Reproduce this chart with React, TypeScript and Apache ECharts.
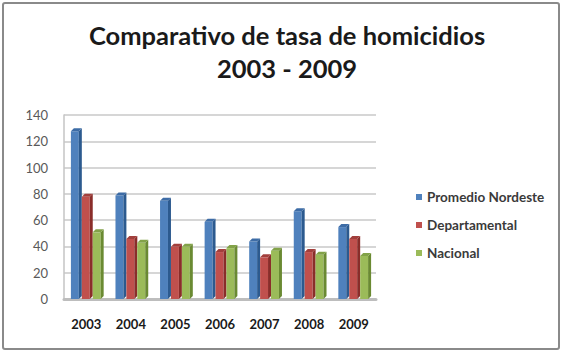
import React, { useEffect, useRef } from "react";
import * as echarts from "echarts";

const years = ["2003", "2004", "2005", "2006", "2007", "2008", "2009"];
const promedioNordeste = [130, 81, 77, 61, 46, 69, 57];
const departamental = [80, 48, 42, 38, 34, 38, 48];
const nacional = [53, 45, 42, 41, 39, 36, 35];
const seriesNames = ["Promedio Nordeste", "Departamental", "Nacional"];
const seriesValues = [promedioNordeste, departamental, nacional];
const titleLines = ["Comparativo de tasa de homicidios", "2003 - 2009"];

const colors = ["#4F81BD", "#C0504D", "#9BBB59"];
const sideColors = ["#2c5a8f", "#8a2d2a", "#6a8a32"];
const topColors = ["#3d6ca6", "#a23f3c", "#82a248"];

export default function App() {
  const ref = useRef<HTMLDivElement>(null);
  useEffect(() => {
    if (!ref.current) return;
    const chart = echarts.init(ref.current, undefined, { renderer: "svg" });
    const makeRender = (s: number) => (params: any, api: any) => {
      const ci = api.value(0);
      const v = api.value(1);
      const top = api.coord([ci, v]);
      const base = api.coord([ci, 0]);
      const band = api.size([1, 0])[0];
      const bw = band * 0.245;
      const x0 = top[0] - 1.5 * bw + s * bw + 1;
      const d = 3;
      const ty = top[1];
      const by = base[1];
      return {
        type: "group",
        children: [
          {
            type: "rect",
            shape: { x: x0, y: ty + d, width: bw - d, height: by - ty - d },
            style: { fill: colors[s] },
          },
          {
            type: "polygon",
            shape: {
              points: [
                [x0 + bw - d, ty + d],
                [x0 + bw, ty],
                [x0 + bw, by - d],
                [x0 + bw - d, by],
              ],
            },
            style: { fill: sideColors[s] },
          },
          {
            type: "polygon",
            shape: {
              points: [
                [x0, ty + d],
                [x0 + d, ty],
                [x0 + bw, ty],
                [x0 + bw - d, ty + d],
              ],
            },
            style: { fill: topColors[s] },
          },
        ],
      };
    };
    chart.setOption({
      animation: false,
      color: colors,
      title: {
        text: titleLines.join("\n"),
        left: 282,
        textAlign: "center",
        top: 13,
        textStyle: {
          fontFamily: "Lato",
          fontWeight: "bold",
          fontSize: 25.5,
          lineHeight: 33,
          color: "#1a1a1a",
        },
      },
      graphic: [
        {
          type: "rect",
          shape: { x: 3, y: 3, width: 556, height: 346, r: 2 },
          style: { fill: "none", stroke: "#8a8a8a", lineWidth: 2 },
          silent: true,
        },
      ],
      legend: {
        orient: "vertical",
        left: 411,
        top: 185,
        itemWidth: 6,
        itemHeight: 6,
        itemGap: 14,
        icon: "rect",
        textStyle: { fontFamily: "Lato", fontSize: 13.5, fontWeight: "bold", color: "#3a3a3a", lineHeight: 14 },
        data: seriesNames,
      },
      grid: { left: 64, right: 191, top: 115, bottom: 57 },
      xAxis: {
        type: "category",
        data: years,
        axisLine: { show: true, lineStyle: { color: "#bdbdbd", width: 3 } },
        axisTick: { show: false },
        axisLabel: {
          margin: 18,
          fontFamily: "Lato",
          fontWeight: "bold",
          fontSize: 13,
          color: "#1a1a1a",
        },
      },
      yAxis: {
        type: "value",
        min: 0,
        max: 140,
        interval: 20,
        axisLine: { show: true, lineStyle: { color: "#c4c4c4", width: 1.5 } },
        axisTick: { show: false },
        splitLine: { lineStyle: { color: "#c8c8c8", width: 1.5 } },
        axisLabel: { margin: 16, fontFamily: "Lato", fontSize: 13, color: "#595959" },
      },
      series: seriesNames.map((name, s) => ({
        type: "custom",
        name,
        renderItem: makeRender(s),
        encode: { x: 0, y: 1 },
        itemStyle: { color: colors[s] },
        data: seriesValues[s].map((v, i) => [i, v]),
      })),
    });
    return () => chart.dispose();
  }, []);
  return (
    <div
      ref={ref}
      style={{ position: "fixed", left: 0, top: 0, width: 567, height: 356, background: "#fff" }}
    />
  );
}
